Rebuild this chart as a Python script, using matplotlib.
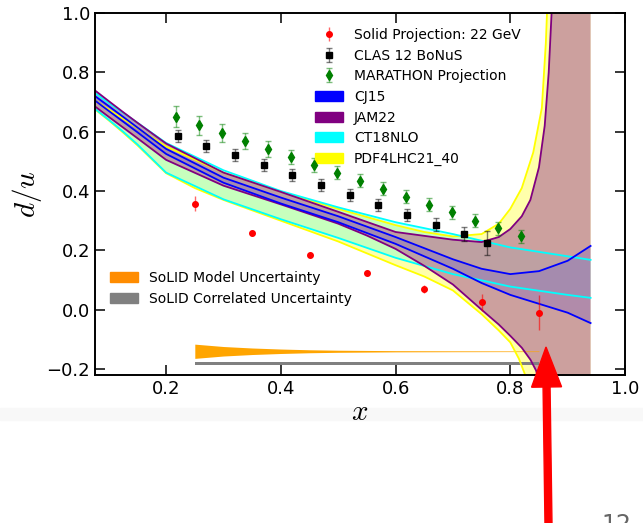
import numpy as np
import matplotlib
matplotlib.use("Agg")
import matplotlib.pyplot as plt
from matplotlib.patches import Patch, FancyArrow, Rectangle
from matplotlib.transforms import IdentityTransform

plt.rcParams['mathtext.fontset'] = 'cm'

# projected / measured d/u points
solid_x = [0.25, 0.35, 0.45, 0.55, 0.65, 0.75, 0.85]
solid_y = [0.357, 0.259, 0.185, 0.123, 0.070, 0.025, -0.010]
solid_err = [0.025, 0.010, 0.008, 0.010, 0.012, 0.028, 0.058]

clas_x = [0.22, 0.27, 0.32, 0.37, 0.42, 0.47, 0.52, 0.57, 0.62, 0.67, 0.72, 0.76]
clas_y = [0.586, 0.553, 0.521, 0.488, 0.455, 0.421, 0.388, 0.352, 0.320, 0.287, 0.255, 0.224]
clas_err = [0.021, 0.020, 0.020, 0.020, 0.020, 0.020, 0.020, 0.020, 0.021, 0.022, 0.024, 0.040]

mar_x = [0.218, 0.258, 0.298, 0.338, 0.378, 0.418, 0.458, 0.498,
         0.538, 0.578, 0.618, 0.658, 0.698, 0.738, 0.778, 0.818]
mar_y = [0.650, 0.622, 0.595, 0.568, 0.541, 0.514, 0.488, 0.461,
         0.434, 0.408, 0.381, 0.354, 0.328, 0.300, 0.274, 0.247]
mar_err = [0.035, 0.032, 0.030, 0.028, 0.026, 0.024, 0.023, 0.022,
           0.022, 0.021, 0.021, 0.021, 0.021, 0.021, 0.022, 0.023]

# PDF bands (upper / lower edges)
ct_x = [0.076, 0.1, 0.125, 0.15, 0.2, 0.3, 0.4, 0.5, 0.6, 0.7, 0.8, 0.9, 0.94]
ct_hi = [0.730, 0.697, 0.664, 0.630, 0.562, 0.470, 0.400, 0.345, 0.295, 0.255, 0.210, 0.180, 0.168]
ct_lo = [0.677, 0.640, 0.600, 0.557, 0.462, 0.372, 0.305, 0.242, 0.175, 0.120, 0.078, 0.050, 0.040]

pdf_x_hi = [0.076, 0.1, 0.125, 0.15, 0.2, 0.3, 0.4, 0.5, 0.6, 0.65, 0.7, 0.75, 0.78,
            0.8, 0.82, 0.84, 0.855, 0.862, 0.868]
pdf_hi = [0.705, 0.675, 0.644, 0.612, 0.550, 0.462, 0.398, 0.340, 0.285, 0.262, 0.247,
          0.255, 0.290, 0.340, 0.410, 0.530, 0.680, 0.900, 1.200]
pdf_x_lo = [0.076, 0.1, 0.125, 0.15, 0.2, 0.25, 0.3, 0.4, 0.5, 0.55, 0.6, 0.65, 0.7,
            0.75, 0.78, 0.8, 0.815, 0.825, 0.835]
pdf_lo = [0.675, 0.638, 0.597, 0.554, 0.460, 0.410, 0.370, 0.300, 0.230, 0.190, 0.150,
          0.112, 0.065, -0.015, -0.070, -0.110, -0.165, -0.215, -0.300]

jam_x_hi = [0.076, 0.1, 0.125, 0.15, 0.2, 0.3, 0.4, 0.5, 0.6, 0.7, 0.75, 0.78, 0.8,
            0.82, 0.835, 0.85, 0.86, 0.867, 0.872, 0.876]
jam_hi = [0.739, 0.703, 0.666, 0.630, 0.560, 0.462, 0.397, 0.330, 0.262, 0.236, 0.228,
          0.245, 0.272, 0.315, 0.370, 0.480, 0.620, 0.800, 1.000, 1.200]
jam_x_lo = [0.076, 0.1, 0.125, 0.15, 0.2, 0.3, 0.4, 0.5, 0.55, 0.6, 0.65, 0.7, 0.75,
            0.78, 0.8, 0.82, 0.835, 0.845, 0.852]
jam_lo = [0.685, 0.650, 0.614, 0.578, 0.505, 0.418, 0.355, 0.290, 0.250, 0.205, 0.148,
          0.085, 0.000, -0.050, -0.088, -0.128, -0.168, -0.205, -0.260]

cj_x = [0.076, 0.1, 0.125, 0.15, 0.2, 0.3, 0.4, 0.5, 0.6, 0.7, 0.75, 0.8, 0.85, 0.9, 0.94]
cj_hi = [0.720, 0.686, 0.650, 0.614, 0.542, 0.445, 0.378, 0.315, 0.245, 0.170, 0.138,
         0.120, 0.130, 0.165, 0.215]
cj_lo = [0.705, 0.670, 0.634, 0.598, 0.525, 0.428, 0.358, 0.295, 0.222, 0.138, 0.090,
         0.050, 0.020, -0.010, -0.045]

# SoLID systematic bands at the bottom
sys_x = [0.25, 0.3, 0.35, 0.4, 0.45, 0.5, 0.6, 0.7, 0.85]
model_half = [0.024, 0.016, 0.011, 0.0075, 0.005, 0.0035, 0.002, 0.0015, 0.001]
model_center = -0.140
corr_lo, corr_hi = -0.187, -0.175

fig = plt.figure(figsize=(6.43, 5.23), dpi=100)
ax = fig.add_axes([95 / 643, 1 - 375 / 523, 530 / 643, 362 / 523])


def band(xh, yh, xl, yl, fc, alpha):
    # closed polygon: upper edge, right end at x=0.94, lower edge back
    px = list(xh) + list(xl)[::-1]
    py = list(yh) + list(yl)[::-1]
    if xh[-1] < 0.94:
        px = list(xh) + [0.94, 0.94] + list(xl)[::-1]
        py = list(yh) + [1.2, -0.3] + list(yl)[::-1]
    ax.fill(px, py, color=fc, alpha=alpha, lw=0)


band(pdf_x_hi, pdf_hi, pdf_x_lo, pdf_lo, 'yellow', 0.33)
band(ct_x, ct_hi, ct_x, ct_lo, 'cyan', 0.22)
band(jam_x_hi, jam_hi, jam_x_lo, jam_lo, '#bb809a', 0.75)
band(cj_x, cj_hi, cj_x, cj_lo, 'blue', 0.13)

for xs, ys, c in [(pdf_x_hi, pdf_hi, 'yellow'), (pdf_x_lo, pdf_lo, 'yellow'),
                  (ct_x, ct_hi, 'cyan'), (ct_x, ct_lo, 'cyan'),
                  (jam_x_hi, jam_hi, 'purple'), (jam_x_lo, jam_lo, 'purple'),
                  (cj_x, cj_hi, 'blue'), (cj_x, cj_lo, 'blue')]:
    ax.plot(xs, ys, color=c, lw=1.3)

# bottom bands
mh = np.array(model_half)
ax.fill_between(sys_x, model_center - mh, model_center + mh, color='orange', lw=0)
ax.fill_between([sys_x[0], sys_x[-1]], corr_lo, corr_hi, color='gray', lw=0)

# data points
ax.errorbar(solid_x, solid_y, yerr=solid_err, fmt='o', color='red', ms=4,
            ecolor=(1, 0, 0, 0.6), elinewidth=1, capsize=0,
            label='Solid Projection: 22 GeV', zorder=5)
ax.errorbar(clas_x, clas_y, yerr=clas_err, fmt='s', color='black', ms=5,
            ecolor=(0, 0, 0, 0.5), elinewidth=1, capsize=2,
            label='CLAS 12 BoNuS', zorder=5)
ax.errorbar(mar_x, mar_y, yerr=mar_err, fmt='d', color='green', ms=5,
            ecolor=(0, 0.5, 0, 0.5), elinewidth=1, capsize=2,
            label='MARATHON Projection', zorder=5)

ax.set_xlim(0.076, 1.0)
ax.set_ylim(-0.22, 1.0)
ax.set_xticks([0.2, 0.4, 0.6, 0.8, 1.0])
ax.set_yticks([-0.2, 0.0, 0.2, 0.4, 0.6, 0.8, 1.0])
ax.tick_params(direction='in', length=7, width=1.1, labelsize=13,
               top=True, right=True)
for s in ax.spines.values():
    s.set_linewidth(1.4)
ax.set_xlabel(r'$x$', fontsize=21, labelpad=0)
ax.set_ylabel(r'$d/u$', fontsize=21)
ax.yaxis.set_label_coords(-0.097, 0.5)

h, l = ax.get_legend_handles_labels()
h += [Patch(color='blue'), Patch(color='purple'), Patch(color='cyan'), Patch(color='yellow')]
l += ['CJ15', 'JAM22', 'CT18NLO', 'PDF4LHC21_40']
leg1 = ax.legend(h, l, loc='upper left', bbox_to_anchor=(0.415, 0.959), frameon=False,
                 fontsize=10, borderpad=0, borderaxespad=0, handlelength=2.0,
                 labelspacing=0.48)
ax.add_artist(leg1)
ax.legend([Patch(color='darkorange'), Patch(color='gray')],
          ['SoLID Model Uncertainty', 'SoLID Correlated Uncertainty'],
          loc='upper left', bbox_to_anchor=(0.028, 0.287), frameon=False,
          fontsize=10, borderpad=0, borderaxespad=0, handlelength=2.0,
          labelspacing=0.48)

# slide overlay: faint strip, red arrow and page number
fig.patches.append(Rectangle((0, 523 - 420), 643, 12, transform=IdentityTransform(),
                             color='#f8f8f8', zorder=-1))
fig.patches.append(FancyArrow(548.5, -2, -2.5, 178, width=7, head_width=30,
                              head_length=40, length_includes_head=True,
                              color='red', transform=IdentityTransform(), zorder=10))
fig.text(601 / 643, 1 - 513 / 523, '12', fontsize=17, color='#666666', va='top')

fig.savefig('out.png', dpi=100)
